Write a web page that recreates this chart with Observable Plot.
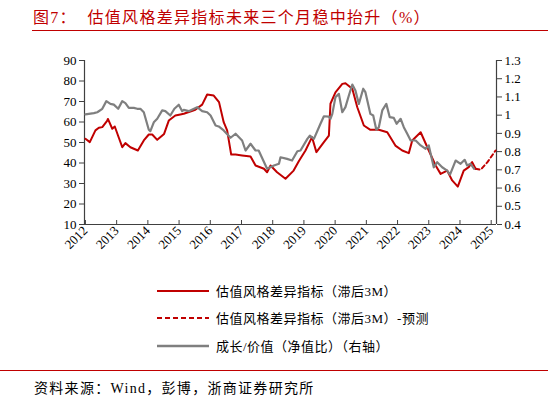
<!DOCTYPE html>
<html><head><meta charset="utf-8">
<script src="https://cdn.jsdelivr.net/npm/d3@7"></script>
<script src="https://cdn.jsdelivr.net/npm/@observablehq/plot@0.6"></script>
<style>
body{margin:0;background:#fff;}
#wrap{position:relative;width:548px;height:402px;overflow:hidden;font-family:"Liberation Serif","Noto Sans CJK SC",serif;}
#title{position:absolute;left:33px;top:4px;font-size:16px;color:#c00000;font-family:"Liberation Serif","Noto Sans CJK SC",serif;white-space:nowrap;letter-spacing:1.3px;}
#tline{position:absolute;left:32px;top:30px;width:516px;height:0;border-top:1.5px solid #c00000;}
#chart{position:absolute;left:0;top:40px;}
.leg{position:absolute;left:157px;font-size:13px;letter-spacing:0.5px;color:#000;white-space:nowrap;display:flex;align-items:center;}
.leg svg{margin-right:7px;}
#bline{position:absolute;left:0;top:370px;width:548px;border-top:1.2px solid #c00000;}
#src{position:absolute;left:34px;top:377px;font-size:14px;letter-spacing:1.3px;color:#000;white-space:nowrap;}
</style></head>
<body><div id="wrap">
<div id="title">图7：&nbsp;&nbsp;估值风格差异指标未来三个月稳中抬升（%）</div>
<div id="tline"></div>
<div id="chart"></div>
<div class="leg" style="top:281px"><svg width="52" height="6"><line x1="0" x2="52" y1="3" y2="3" stroke="#c00000" stroke-width="2"/></svg>估值风格差异指标（滞后3M）</div>
<div class="leg" style="top:308px"><svg width="52" height="6"><line x1="0" x2="52" y1="3" y2="3" stroke="#c00000" stroke-width="2" stroke-dasharray="5,3"/></svg>估值风格差异指标（滞后3M）-预测</div>
<div class="leg" style="top:336px"><svg width="52" height="6"><line x1="0" x2="52" y1="3" y2="3" stroke="#7f7f7f" stroke-width="2.5"/></svg>成长/价值（净值比）（右轴）</div>
<div id="bline"></div>
<div id="src">资料来源：Wind，彭博，浙商证券研究所</div>
</div>
<script>
// Valuation style difference indicator (lagged 3M), left axis
const redX = [2012.00,2012.14,2012.32,2012.43,2012.54,2012.70,2012.72,2012.86,2012.94,2013.07,2013.18,2013.28,2013.44,2013.68,2013.87,2014.03,2014.14,2014.30,2014.52,2014.67,2014.88,2015.04,2015.15,2015.36,2015.52,2015.74,2015.90,2016.11,2016.28,2016.43,2016.54,2016.67,2016.81,2017.02,2017.29,2017.45,2017.72,2017.82,2017.93,2018.14,2018.41,2018.67,2018.84,2019.05,2019.26,2019.40,2019.64,2019.80,2019.85,2020.01,2020.23,2020.33,2020.55,2020.71,2020.92,2021.13,2021.40,2021.67,2021.93,2022.15,2022.36,2022.47,2022.74,2023.00,2023.22,2023.38,2023.59,2023.75,2023.93,2024.12,2024.28,2024.39,2024.50];
const redY = [51.8,50.2,55.9,57.2,57.5,60.7,61.5,56.7,57.8,52.3,47.7,49.7,47.7,46.1,51.0,53.9,53.9,51.3,54.2,60.7,63.2,63.7,64.0,65.1,66.0,68.5,73.4,72.9,69.7,59.9,55.9,44.1,44.1,43.7,43.2,38.8,37.2,35.5,38.8,35.5,32.3,36.3,41.0,46.1,52.6,45.3,50.2,53.4,68.9,74.5,78.6,78.9,76.2,67.2,58.3,56.2,56.2,55.0,48.5,46.1,44.8,51.0,55.0,46.1,38.8,34.7,36.3,31.5,28.5,36.3,38.0,40.4,37.2];
// Forecast
const fcX = [2024.50,2024.66,2024.88,2025.14];
const fcY = [37.2,36.7,40.4,46.1];
// Growth / value (NAV ratio), right axis
const grayX = [2012.00,2012.27,2012.38,2012.54,2012.67,2012.80,2012.91,2013.05,2013.18,2013.28,2013.39,2013.55,2013.66,2013.76,2013.87,2014.03,2014.08,2014.19,2014.30,2014.46,2014.56,2014.72,2014.85,2014.99,2015.10,2015.15,2015.31,2015.58,2015.74,2015.90,2016.01,2016.17,2016.27,2016.43,2016.65,2016.81,2017.02,2017.13,2017.29,2017.45,2017.55,2017.82,2018.04,2018.20,2018.25,2018.46,2018.62,2018.79,2018.89,2019.11,2019.19,2019.32,2019.53,2019.64,2019.80,2019.85,2019.91,2020.01,2020.12,2020.23,2020.33,2020.44,2020.55,2020.65,2020.76,2020.90,2020.97,2021.13,2021.22,2021.32,2021.40,2021.51,2021.64,2021.75,2021.88,2021.97,2022.10,2022.20,2022.31,2022.42,2022.58,2022.74,2022.90,2023.00,2023.16,2023.27,2023.43,2023.59,2023.68,2023.86,2024.02,2024.15,2024.23,2024.34,2024.45];
const grayY = [1.004,1.011,1.016,1.035,1.077,1.062,1.058,1.035,1.077,1.066,1.040,1.040,1.035,1.035,1.016,0.920,0.912,0.961,0.980,1.026,1.022,0.998,1.035,1.057,1.022,1.029,1.022,1.044,1.022,1.016,0.998,0.943,0.938,0.916,0.876,0.898,0.861,0.806,0.843,0.806,0.806,0.706,0.724,0.733,0.769,0.760,0.751,0.802,0.806,0.870,0.888,0.870,0.953,0.994,0.992,0.980,1.007,1.099,1.117,1.016,1.044,1.108,1.168,1.135,1.062,1.145,1.126,1.007,0.998,0.920,0.934,1.026,1.062,0.989,0.985,0.953,0.980,0.934,0.898,0.861,0.861,0.834,0.815,0.834,0.714,0.742,0.714,0.696,0.674,0.751,0.733,0.755,0.724,0.733,0.706];
const years = [2012,2013,2014,2015,2016,2017,2018,2019,2020,2021,2022,2023,2024,2025];
const leftTicks = [10,20,30,40,50,60,70,80,90];
const rightTicks = [0.4,0.5,0.6,0.7,0.8,0.9,1.0,1.1,1.2,1.3];

const L0 = 10, L1 = 90, R0 = 0.4, R1 = 1.3;
const toLeft = r => L0 + (r - R0) / (R1 - R0) * (L1 - L0);
const toRight = v => R0 + (v - L0) / (L1 - L0) * (R1 - R0);
const xDom = [2011.97, 2025.17];

const red = redX.map((x, i) => ({x, y: redY[i]}));
const fc = fcX.map((x, i) => ({x, y: fcY[i]}));
const gray = grayX.map((x, i) => ({x, y: toLeft(grayY[i])}));
const axisColor = "#404040";

const chart = Plot.plot({
  width: 548, height: 240,
  marginLeft: 84, marginRight: 52, marginTop: 20, marginBottom: 56,
  style: {fontFamily: "Liberation Serif, serif", fontSize: "13px", color: "#000", background: "transparent"},
  x: {domain: xDom},
  y: {domain: [L0, L1]},
  marks: [
    Plot.ruleY([L0], {stroke: axisColor, strokeWidth: 1.2}),
    Plot.ruleX(xDom, {stroke: axisColor, strokeWidth: 1.2}),
    Plot.ruleX(years, {stroke: axisColor, insetTop: 160}),
    Plot.axisX(years, {tickFormat: d => String(d), tickRotate: -45, tickSize: 0, tickPadding: 4, fontSize: 13, label: null}),
    Plot.axisY(leftTicks, {anchor: "left", tickSize: 5, tickPadding: 3, stroke: axisColor, fontSize: 13, label: null}),
    Plot.axisY(rightTicks.map(toLeft), {anchor: "right", tickSize: 5, tickPadding: 3, stroke: axisColor, fontSize: 13, label: null, tickFormat: v => String(+toRight(v).toFixed(1))}),
    Plot.line(red, {x: "x", y: "y", stroke: "#c00000", strokeWidth: 2}),
    Plot.line(fc, {x: "x", y: "y", stroke: "#c00000", strokeWidth: 2, strokeDasharray: "4,3"}),
    Plot.line(gray, {x: "x", y: "y", stroke: "#7f7f7f", strokeWidth: 2.2})
  ]
});
document.getElementById("chart").appendChild(chart);
</script>
</body></html>
